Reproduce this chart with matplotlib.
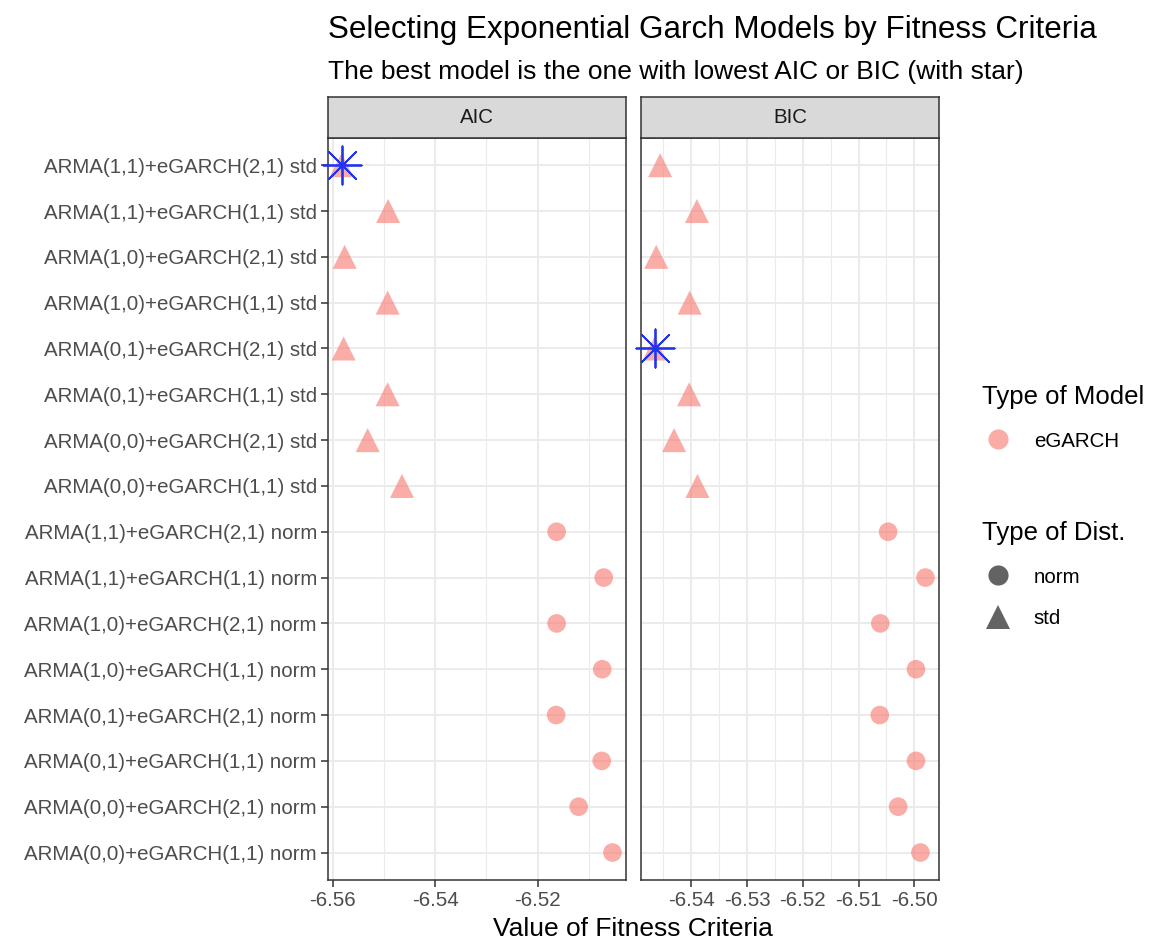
import numpy as np
import matplotlib
matplotlib.use("Agg")
import matplotlib.pyplot as plt
from matplotlib.lines import Line2D

plt.rcParams["font.family"] = ["Liberation Sans", "DejaVu Sans"]

#########################################
### Data
#########################################
models = [
    "ARMA(1,1)+eGARCH(2,1) std",
    "ARMA(1,1)+eGARCH(1,1) std",
    "ARMA(1,0)+eGARCH(2,1) std",
    "ARMA(1,0)+eGARCH(1,1) std",
    "ARMA(0,1)+eGARCH(2,1) std",
    "ARMA(0,1)+eGARCH(1,1) std",
    "ARMA(0,0)+eGARCH(2,1) std",
    "ARMA(0,0)+eGARCH(1,1) std",
    "ARMA(1,1)+eGARCH(2,1) norm",
    "ARMA(1,1)+eGARCH(1,1) norm",
    "ARMA(1,0)+eGARCH(2,1) norm",
    "ARMA(1,0)+eGARCH(1,1) norm",
    "ARMA(0,1)+eGARCH(2,1) norm",
    "ARMA(0,1)+eGARCH(1,1) norm",
    "ARMA(0,0)+eGARCH(2,1) norm",
    "ARMA(0,0)+eGARCH(1,1) norm",
]
dist = ["std"] * 8 + ["norm"] * 8

aic = [-6.5583, -6.5492, -6.5577, -6.5493, -6.5579, -6.5493, -6.5532, -6.5465,
       -6.5163, -6.5071, -6.5163, -6.5074, -6.5164, -6.5075, -6.5120, -6.5054]
bic = [-6.5456, -6.5390, -6.5463, -6.5403, -6.5466, -6.5404, -6.5431, -6.5389,
       -6.5047, -6.4980, -6.5061, -6.4997, -6.5062, -6.4997, -6.5029, -6.4989]

aic_major = [-6.56, -6.54, -6.52]
aic_minor = [-6.55, -6.53, -6.51]
bic_major = [-6.54, -6.53, -6.52, -6.51, -6.50]
bic_minor = [-6.545, -6.535, -6.525, -6.515, -6.505]

pink = "#F8766D"
W, H = 1149, 944
base = 18.5  # ggplot-like base font size

fig = plt.figure(figsize=(W / 100, H / 100), dpi=100)

y = np.arange(len(models))
is_std = np.array([d == "std" for d in dist])

panels = [("AIC", aic, aic_major, aic_minor, 328), ("BIC", bic, bic_major, bic_minor, 641)]
ax_bottom, ax_top = 880, 137.7
for i, (name, vals, major, minor, left_px) in enumerate(panels):
    vals = np.array(vals)
    ax = fig.add_axes([left_px / W, 1 - ax_bottom / H, 298 / W, (ax_bottom - ax_top) / H])
    ax.set_facecolor("white")
    for s in ax.spines.values():
        s.set_color("#333333")
        s.set_linewidth(1.1)
    # grid
    ax.set_xticks(major)
    ax.set_xticks(minor, minor=True)
    ax.set_yticks(y)
    ax.grid(True, which="major", color="#EBEBEB", linewidth=1.4, zorder=0)
    ax.grid(True, which="minor", axis="x", color="#EBEBEB", linewidth=0.8, zorder=0)
    ax.set_axisbelow(True)

    ax.scatter(vals[~is_std], y[~is_std], marker="o", s=180, color=pink, alpha=0.6,
               edgecolors="none", zorder=3)
    ax.scatter(vals[is_std], y[is_std], marker="^", s=300, color=pink, alpha=0.6,
               edgecolors="none", zorder=3)
    best = np.argmin(vals)
    ax.scatter([vals[best]], [y[best]], marker=(8, 2, 0), s=760, color="#2233EE",
               linewidths=1.3, zorder=4, clip_on=False)

    lo, hi = vals.min(), vals.max()
    pad = (hi - lo) * 0.05
    ax.set_xlim(lo - pad, hi + pad)
    ax.set_ylim(len(models) - 0.4, -0.6)

    ax.set_xticklabels(["%.2f" % v for v in major])
    ax.tick_params(axis="both", which="major", length=5, width=1.1, color="#333333",
                   labelsize=base * 0.8, labelcolor="#4D4D4D", pad=3)
    ax.tick_params(axis="x", which="minor", length=0)
    if i == 0:
        ax.set_yticklabels(models)
    else:
        ax.tick_params(axis="y", left=False, labelleft=False)

    # facet strip
    strip = fig.add_axes([left_px / W, 1 - ax_top / H, 298 / W, 41 / H])
    strip.set_facecolor("#D9D9D9")
    strip.set_xticks([])
    strip.set_yticks([])
    for s in strip.spines.values():
        s.set_color("#333333")
        s.set_linewidth(1.1)
    strip.text(0.5, 0.5, name, ha="center", va="center", fontsize=base * 0.8,
               color="#1A1A1A", transform=strip.transAxes)

fig.text(328 / W, 1 - 30 / H, "Selecting Exponential Garch Models by Fitness Criteria",
         fontsize=22.6, ha="left", va="center", color="black")
fig.text(328 / W, 1 - 72 / H, "The best model is the one with lowest AIC or BIC (with star)",
         fontsize=19, ha="left", va="center", color="black")
fig.text(633 / W, 1 - 929 / H, "Value of Fitness Criteria", fontsize=19, ha="center",
         va="center", color="black")

# legends
leg_kw = dict(loc="upper left", frameon=False, fontsize=base * 0.8, title_fontsize=base,
              alignment="left", handlelength=1.6, handletextpad=0.92, borderaxespad=0,
              borderpad=0, labelspacing=1.1)
h1 = [Line2D([], [], marker="o", linestyle="none", markersize=14.5, color=pink, alpha=0.6,
             markeredgewidth=0)]
fig.legend(h1, ["eGARCH"], title="Type of Model", bbox_to_anchor=(982 / W, 1 - 385 / H),
           **leg_kw)
h2 = [Line2D([], [], marker="o", linestyle="none", markersize=14.5, color="#636363",
             markeredgewidth=0),
      Line2D([], [], marker="^", linestyle="none", markersize=17, color="#636363",
             markeredgewidth=0)]
fig.legend(h2, ["norm", "std"], title="Type of Dist.", bbox_to_anchor=(982 / W, 1 - 521 / H),
           **leg_kw)

fig.savefig("out.png", dpi=100, facecolor="white")
